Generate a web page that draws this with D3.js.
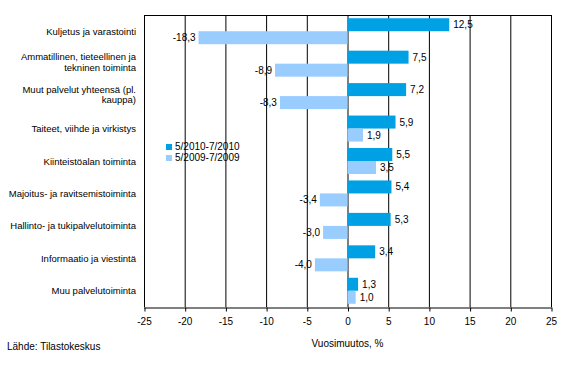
<!DOCTYPE html>
<html><head><meta charset="utf-8">
<script src="https://cdn.jsdelivr.net/npm/d3@7"></script>
<style>body{margin:0;background:#fff}text{font-family:"Liberation Sans",Arial,sans-serif;font-size:9px;fill:#000}</style>
</head><body><svg id="c" width="566" height="371"></svg>
<script>
const categories = [
  ["Kuljetus ja varastointi"],
  ["Ammatillinen, tieteellinen ja","tekninen toiminta"],
  ["Muut palvelut yhteensä (pl.","kauppa)"],
  ["Taiteet, viihde ja virkistys"],
  ["Kiinteistöalan toiminta"],
  ["Majoitus- ja ravitsemistoiminta"],
  ["Hallinto- ja tukipalvelutoiminta"],
  ["Informaatio ja viestintä"],
  ["Muu palvelutoiminta"]
];
const series2010 = [12.5, 7.5, 7.2, 5.9, 5.5, 5.4, 5.3, 3.4, 1.3];
const series2009 = [-18.3, -8.9, -8.3, 1.9, 3.5, -3.4, -3.0, -4.0, 1.0];
const seriesNames = ["5/2010-7/2010", "5/2009-7/2009"];
const ticks = [-25,-20,-15,-10,-5,0,5,10,15,20,25];
const colors = ["#00A0E4", "#99CCFF"];

const svg = d3.select("#c");
const L = 144, R = 551, T = 15, B = 307;
const x = d3.scaleLinear().domain([-25,25]).range([L,R]);
const y = d3.scaleBand().domain(d3.range(categories.length)).range([T,B]);
const fmt = v => d3.format(".1f")(v).replace(".", ",").replace("−","-");

// gridlines
svg.append("g").selectAll("line").data(ticks).join("line")
  .attr("x1", d=>x(d)+0.5).attr("x2", d=>x(d)+0.5).attr("y1", T).attr("y2", B)
  .attr("stroke", "#000").attr("stroke-width", 1);
svg.append("line").attr("x1", L).attr("x2", R+1).attr("y1", T+0.5).attr("y2", T+0.5).attr("stroke","#000");

const bh = 13;
const off = (y.bandwidth() - 2*bh)/2;
const g = svg.append("g");
[series2010, series2009].forEach((s, si) => {
  g.selectAll(null).data(s).join("rect")
    .attr("x", d => x(Math.min(0,d))).attr("width", d => Math.abs(x(d)-x(0)))
    .attr("y", (d,i) => y(i) + off + si*bh).attr("height", bh)
    .attr("fill", colors[si]);
  g.selectAll(null).data(s).join("text")
    .attr("x", d => d >= 0 ? x(d) + 4 : x(d) - 3)
    .attr("y", (d,i) => y(i) + off + si*bh + bh/2 + 3.5)
    .attr("text-anchor", d => d >= 0 ? "start" : "end")
    .style("font-size","10px")
    .text(d => fmt(d));
});

// axis
const ax = svg.append("g").attr("transform", `translate(0,${B+0.5})`)
  .call(d3.axisBottom(x).tickValues(ticks).tickSize(4).tickFormat(d => String(d)));
ax.select(".domain").attr("stroke","#000").attr("d", `M${L},0.5H${R+1}`);
ax.selectAll(".tick line").attr("stroke","#000").attr("transform","translate(0.5,0)");
ax.selectAll(".tick text").attr("y", 10).style("font-size","10px").style("font-family","'Liberation Sans',Arial,sans-serif");

// category labels
const cl = svg.append("g");
categories.forEach((lines, i) => {
  const cy = y(i) + y.bandwidth()/2 + (lines.length > 1 ? -1.5 : 0);
  const t = cl.append("text").attr("text-anchor","end").style("font-size","9.5px");
  lines.forEach((ln, j) => {
    t.append("tspan").attr("x", 136)
      .attr("y", cy + 3.5 + (j - (lines.length-1)/2) * 10.5)
      .text(ln);
  });
});

// legend
const lg = svg.append("g");
seriesNames.forEach((n, i) => {
  lg.append("rect").attr("x", 166).attr("y", 144 + i*11).attr("width", 6).attr("height", 6).attr("fill", colors[i]);
  lg.append("text").attr("x", 175).attr("y", 150 + i*11).style("font-size","10px").text(n);
});

svg.append("text").attr("x", x(0)).attr("y", 347).attr("text-anchor","middle").style("font-size","10px").text("Vuosimuutos, %");
svg.append("text").attr("x", 7).attr("y", 350).style("font-size","10px").text("Lähde: Tilastokeskus");
</script></body></html>
